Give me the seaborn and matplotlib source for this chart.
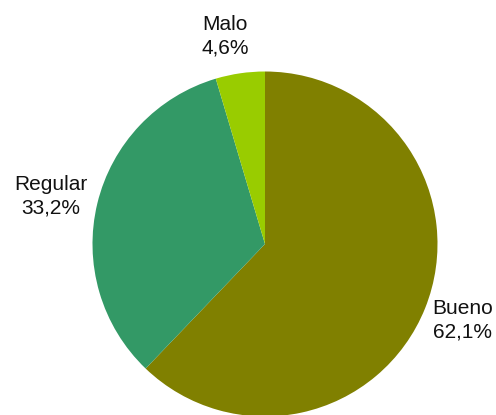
import matplotlib
matplotlib.use("Agg")
import matplotlib.pyplot as plt
import seaborn as sns

categories = ["Bueno", "Regular", "Malo"]
values = [62.1, 33.2, 4.6]
labels = ["Bueno\n62,1%", "Regular\n33,2%", "Malo\n4,6%"]
colors = ["#808000", "#339966", "#99CC00"]

sns.set_theme(style="white")
plt.rcParams['font.family'] = ['Liberation Sans', 'DejaVu Sans']

W, H = 496, 415
fig = plt.figure(figsize=(W / 100, H / 100), dpi=100)
ax = fig.add_axes([0, 0, 1, 1])

cx, cy, r = 265, H - 244, 172.5
ax.pie(values, colors=colors, startangle=90, counterclock=False,
       center=(cx, cy), radius=r, frame=True,
       wedgeprops=dict(linewidth=0))
ax.set_xlim(0, W)
ax.set_ylim(0, H)
ax.set_aspect("equal")
ax.axis("off")

label_pos = [(463, H - 320), (51, H - 196), (225, H - 36)]
for lab, (x, y) in zip(labels, label_pos):
    ax.text(x, y, lab, ha="center", va="center", fontsize=15,
            linespacing=1.3, color="#111111")

fig.savefig("out.png", dpi=100)
